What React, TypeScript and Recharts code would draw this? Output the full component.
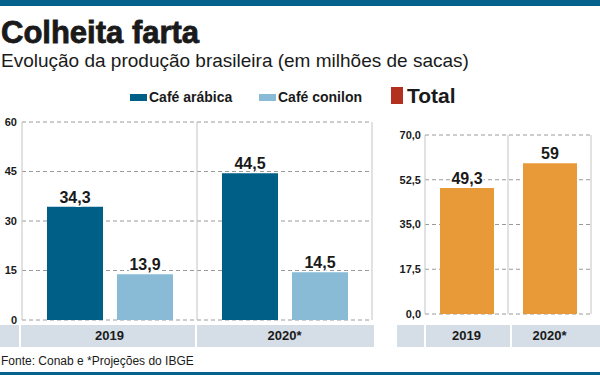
import React from 'react';
import { BarChart, Bar, XAxis, YAxis, CartesianGrid, LabelList } from 'recharts';

const categories = ['2019', '2020*'];
const arabica = [34.3, 44.5];
const conilon = [13.9, 14.5];
const total = [49.3, 59];
const leftTicks = [0, 15, 30, 45, 60];
const rightTicks = [0, 17.5, 35, 52.5, 70];
const seriesNames = ['Café arábica', 'Café conilon', 'Total'];

const C_ARABICA = '#005f87';
const C_CONILON = '#89bbd6';
const C_TOTAL = '#e89a38';
const C_TOTAL_KEY = '#b3301e';
const C_BAND = '#05628c';
const C_STRIP = '#d5dee6';
const C_TEXT = '#1a1a1a';
const FONT = '"Liberation Sans", Arial, sans-serif';

const leftData = categories.map((c, i) => ({ cat: c, arabica: arabica[i], conilon: conilon[i] }));
const rightData = categories.map((c, i) => ({ cat: c, total: total[i] }));

const fmt = (v: any) => String(v).replace('.', ',');
const fmt1 = (v: any) => Number(v).toFixed(1).replace('.', ',');

const bandEdges = (n: number) => (props: any) => {
  const o = props.offset;
  const arr: number[] = [];
  for (let i = 0; i <= n; i++) arr.push(o.left + (o.width * i) / n);
  return arr;
};

const tickStyle = { fontSize: 11, fontWeight: 700, fill: C_TEXT, fontFamily: FONT };
const catStyle = { fontSize: 13, fontWeight: 700, fill: C_TEXT, fontFamily: FONT };
const valStyle: any = {
  fontSize: 16,
  fontWeight: 700,
  fill: C_TEXT,
  fontFamily: FONT,
  stroke: '#ffffff',
  strokeWidth: 3,
  paintOrder: 'stroke',
};

const abs = (l: number, t: number, w: number, h: number, bg: string): React.CSSProperties => ({
  position: 'absolute',
  left: l,
  top: t,
  width: w,
  height: h,
  background: bg,
});

export default function App() {
  const strips: [number, number][] = [
    [0, 19],
    [21, 195],
    [197, 374],
    [397, 424],
    [426, 510],
    [512, 600],
  ];
  return (
    <div
      style={{
        position: 'absolute',
        left: 0,
        top: 0,
        width: 600,
        height: 375,
        overflow: 'hidden',
        background: '#ffffff',
        fontFamily: FONT,
        color: C_TEXT,
      }}
    >
      <div style={abs(0, 0, 600, 6, C_BAND)} />
      <div style={abs(0, 372, 600, 3, C_BAND)} />
      <div
        style={{
          position: 'absolute',
          left: 1,
          top: 17,
          fontSize: 31,
          lineHeight: '31px',
          fontWeight: 700,
          whiteSpace: 'nowrap',
          WebkitTextStroke: '0.8px #1a1a1a',
        }}
      >
        Colheita farta
      </div>
      <div
        style={{
          position: 'absolute',
          left: 1,
          top: 51,
          fontSize: 19,
          lineHeight: '19px',
          whiteSpace: 'nowrap',
        }}
      >
        Evolução da produção brasileira (em milhões de sacas)
      </div>
      {/* legend */}
      <div style={abs(130, 94, 17, 7, C_ARABICA)} />
      <div style={{ position: 'absolute', left: 149, top: 90, fontSize: 14, lineHeight: '14px', fontWeight: 700, whiteSpace: 'nowrap' }}>
        {seriesNames[0]}
      </div>
      <div style={abs(259, 94, 17, 7, C_CONILON)} />
      <div style={{ position: 'absolute', left: 278, top: 90, fontSize: 14, lineHeight: '14px', fontWeight: 700, whiteSpace: 'nowrap' }}>
        {seriesNames[1]}
      </div>
      <div style={abs(391, 87, 12, 17, C_TOTAL_KEY)} />
      <div style={{ position: 'absolute', left: 407, top: 85, fontSize: 21, lineHeight: '21px', fontWeight: 700, whiteSpace: 'nowrap' }}>
        {seriesNames[2]}
      </div>
      {/* category strips */}
      {strips.map(([a, b], i) => (
        <div key={i} style={abs(a, 325, b - a, 22, C_STRIP)} />
      ))}
      <div style={{ position: 'absolute', left: 1, top: 355, fontSize: 12, lineHeight: '12px', whiteSpace: 'nowrap' }}>
        Fonte: Conab e *Projeções do IBGE
      </div>

      <div style={{ position: 'absolute', left: 0, top: 0 }}>
        <BarChart
          width={380}
          height={350}
          data={leftData}
          margin={{ top: 122, right: 8, left: 0, bottom: 3 }}
          barSize={56}
          barGap={14}
        >
          <CartesianGrid horizontal vertical={false} stroke="#9a9a9a" strokeDasharray="4 3" />
          <CartesianGrid
            horizontal={false}
            vertical
            stroke="#c4c4c4"
            verticalCoordinatesGenerator={bandEdges(categories.length)}
          />
          <XAxis
            dataKey="cat"
            axisLine={false}
            tickLine={false}
            tickSize={0}
            tickMargin={11}
            height={27}
            interval={0}
            tick={catStyle}
          />
          <YAxis
            domain={[0, 60]}
            ticks={leftTicks}
            width={22}
            axisLine={false}
            tickLine={false}
            tickSize={0}
            tickMargin={5}
            tick={tickStyle}
            interval={0}
          />
          <Bar dataKey="arabica" fill={C_ARABICA} isAnimationActive={false}>
            <LabelList dataKey="arabica" position="top" offset={4} formatter={fmt} style={valStyle} />
          </Bar>
          <Bar dataKey="conilon" fill={C_CONILON} isAnimationActive={false}>
            <LabelList dataKey="conilon" position="top" offset={4} formatter={fmt} style={valStyle} />
          </Bar>
        </BarChart>
      </div>

      <div style={{ position: 'absolute', left: 380, top: 0 }}>
        <BarChart
          width={220}
          height={350}
          data={rightData}
          margin={{ top: 135, right: 9, left: 0, bottom: 0 }}
          barSize={54}
        >
          <CartesianGrid horizontal vertical={false} stroke="#9a9a9a" strokeDasharray="4 3" />
          <CartesianGrid
            horizontal={false}
            vertical
            stroke="#c4c4c4"
            verticalCoordinatesGenerator={bandEdges(categories.length)}
          />
          <XAxis
            dataKey="cat"
            axisLine={false}
            tickLine={false}
            tickSize={0}
            tickMargin={17}
            height={36}
            interval={0}
            tick={catStyle}
          />
          <YAxis
            domain={[0, 70]}
            ticks={rightTicks}
            width={45}
            axisLine={false}
            tickLine={false}
            tickSize={0}
            tickMargin={4}
            tick={tickStyle}
            tickFormatter={fmt1}
            interval={0}
          />
          <Bar dataKey="total" fill={C_TOTAL} isAnimationActive={false}>
            <LabelList dataKey="total" position="top" offset={4} formatter={fmt} style={valStyle} />
          </Bar>
        </BarChart>
      </div>
    </div>
  );
}
